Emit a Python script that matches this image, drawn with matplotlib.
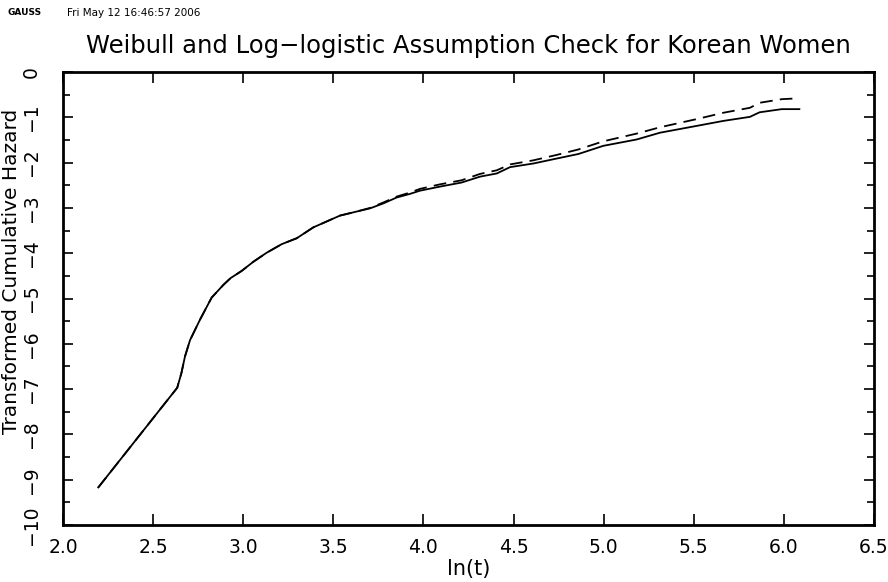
import matplotlib.pyplot as plt
import numpy as np

# log time and the two transformed cumulative hazards
ln_t = [2.196, 2.634, 2.657, 2.677, 2.705, 2.760, 2.825, 2.890, 2.930, 2.992,
        3.056, 3.130, 3.214, 3.297, 3.389, 3.463, 3.537, 3.630, 3.704, 3.778,
        3.852, 3.926, 3.981, 4.092, 4.212, 4.314, 4.407, 4.481, 4.610, 4.740,
        4.860, 4.998, 5.183, 5.313, 5.516, 5.664, 5.812, 5.865, 5.988, 6.086]

weibull = [-9.17, -6.97, -6.65, -6.28, -5.92, -5.47, -4.98, -4.70, -4.55, -4.39,
           -4.19, -3.99, -3.80, -3.67, -3.43, -3.30, -3.17, -3.08, -3.01, -2.90,
           -2.77, -2.69, -2.62, -2.53, -2.44, -2.31, -2.24, -2.10, -2.02, -1.91,
           -1.81, -1.63, -1.49, -1.34, -1.19, -1.08, -0.99, -0.89, -0.82, -0.82]

loglogistic = [-9.17, -6.97, -6.65, -6.28, -5.92, -5.47, -4.98, -4.70, -4.55, -4.39,
               -4.19, -3.99, -3.80, -3.67, -3.43, -3.30, -3.17, -3.08, -3.00, -2.88,
               -2.75, -2.66, -2.58, -2.48, -2.39, -2.25, -2.17, -2.04, -1.95, -1.83,
               -1.71, -1.53, -1.36, -1.22, -1.04, -0.90, -0.79, -0.68, -0.60, -0.58]

x_ticks = np.arange(2.0, 6.51, 0.5)
y_ticks = np.arange(-10, 1, 1)

plt.rcParams['font.family'] = ['DejaVu Sans']

fig = plt.figure(figsize=(8.88, 5.82), dpi=100)
ax = fig.add_axes([0.0709, 0.0979, 0.9133, 0.7784])

ax.plot(ln_t, weibull, color='black', lw=1.3, solid_joinstyle='round')
ax.plot(ln_t, loglogistic, color='black', lw=1.3, dashes=(7, 4))

ax.set_xlim(2.0, 6.5)
ax.set_ylim(-10, 0)

for s in ax.spines.values():
    s.set_linewidth(2.0)

ax.set_xticks(x_ticks)
ax.set_xticklabels([f'{v:.1f}' for v in x_ticks], fontsize=13.5)
ax.set_yticks(y_ticks)
ax.set_yticklabels([f'{v:d}'.replace('-', '\u2212') for v in y_ticks],
                   rotation=90, va='center', fontsize=13.5)
ax.set_yticks(np.arange(-9.5, 0, 1), minor=True)

ax.tick_params(axis='x', which='major', direction='in', top=True, length=8,
               width=1.2, pad=9)
ax.tick_params(axis='y', which='major', direction='in', right=True, length=7,
               width=1.2, pad=16)
ax.tick_params(axis='y', which='minor', direction='in', right=True, length=5,
               width=1.2)

ax.set_xlabel('ln(t)', fontsize=15, labelpad=2)
ax.set_ylabel('Transformed Cumulative Hazard', fontsize=14.5)
ax.yaxis.set_label_coords(-0.052, 0.56)
ax.set_title('Weibull and Log\u2212logistic Assumption Check for Korean Women',
             fontsize=17.5, pad=14)

# header stamp
fig.text(0.008, 0.978, 'GAUSS', fontsize=6.5, fontweight='bold',
         va='center', ha='left')
fig.text(0.0755, 0.978, 'Fri May 12 16:46:57 2006', fontsize=7.5,
         va='center', ha='left')

fig.savefig('out.png', dpi=100)
